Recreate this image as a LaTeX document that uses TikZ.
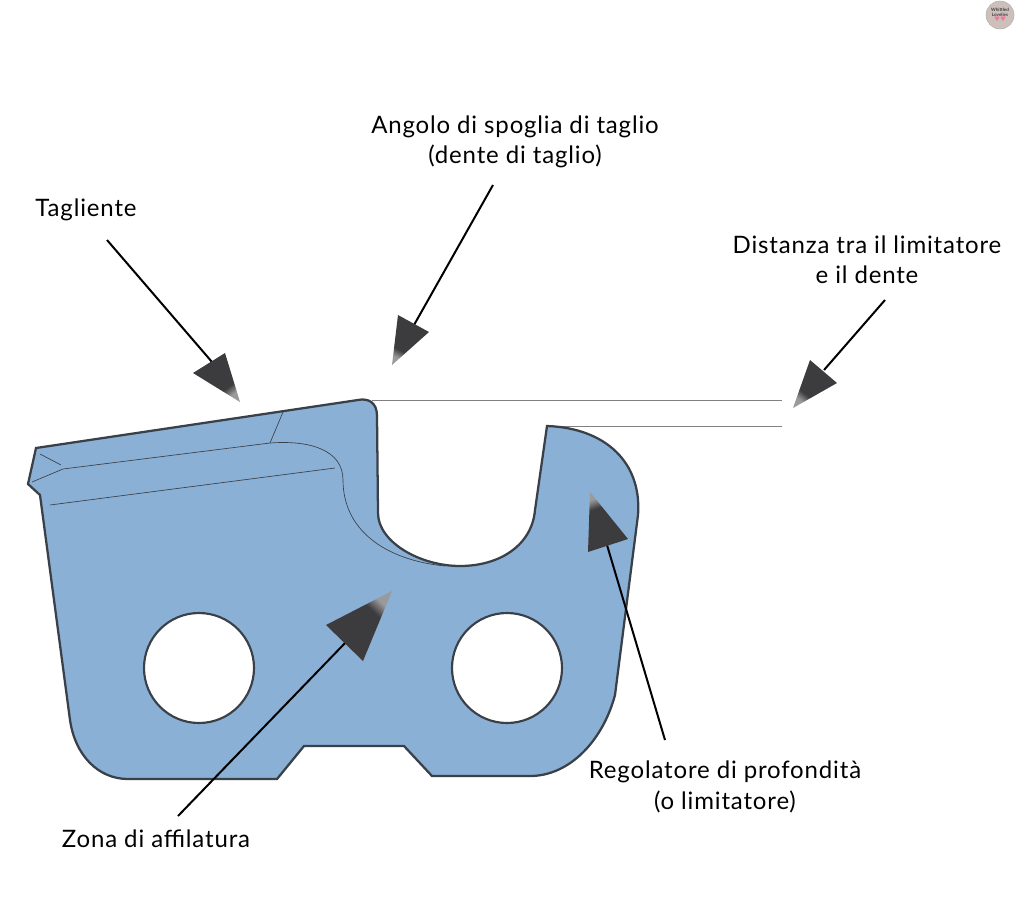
\documentclass[tikz,border=0pt]{standalone}
\usepackage{fontspec}
\setmainfont{Lato}
\newfontfamily\labelfont[LetterSpace=3.5]{Lato}
\newfontfamily\heartfont{DejaVu Sans}
\definecolor{toothblue}{HTML}{8BB0D6}
\definecolor{toothedge}{HTML}{3A4048}
\definecolor{headdark}{HTML}{3C3C3E}
\definecolor{headlight}{HTML}{9A9A9A}
\definecolor{badgefill}{HTML}{CDBFBA}
\definecolor{heartpink}{HTML}{E8809F}
\pgfdeclareverticalshading{headfade}{100bp}{color(0bp)=(headlight); color(26bp)=(headlight); color(35bp)=(headdark); color(100bp)=(headdark)}
\tikzset{
  label/.style={align=center, font=\labelfont\fontsize{18}{22.8}\selectfont, text=black, inner sep=0pt},
  pointer/.style={draw=black, line width=1.5pt},
  arrowhead/.style={shading=headfade, shading angle=#1},
  scratch/.style={draw=toothedge, line width=0.5pt},
  level/.style={draw=gray, line width=1.2pt},
  hole/.style={fill=white, draw=toothedge, line width=1.6pt}
}
\begin{document}
\begin{tikzpicture}[x=0.75pt,y=-0.75pt]
  \useasboundingbox (0,0) rectangle (1016,903);
  % levels
  \coordinate (toptooth) at (372,400.5);
  \coordinate (topend) at (782,400.5);
  \coordinate (limiter) at (548,426.5);
  \coordinate (limiterend) at (782,426.5);
  \draw[level] (toptooth) -- (topend);
  \draw[level] (limiter) -- (limiterend);
  % tooth body
  \path[fill=toothblue, draw=toothedge, line width=1.7pt] (36,448) -- (358,400)
    .. controls (368,398) and (377,402) .. (377,416) -- (378,513)
    .. controls (378,542) and (420,566) .. (460,566)
    .. controls (500,566) and (532,545) .. (535,510) -- (547,426)
    .. controls (605,428) and (642,462) .. (638,515) -- (615,695)
    .. controls (603,740) and (570,776) .. (530,776) -- (432,776) -- (404,746) -- (304,746) -- (277,779) -- (128,779)
    .. controls (98,779) and (75,755) .. (70,720) -- (40,495) -- (28,484) -- cycle;
  \path[hole] (199,668) circle [radius=41.25pt];
  \path[hole] (507,668) circle [radius=41.25pt];
  % lines on the tooth
  \draw[scratch] (40,454) -- (61,465);
  \draw[scratch] (32,482) -- (63,469) -- (270,443)
    .. controls (310,440) and (343,450) .. (343,480)
    .. controls (343,530) and (385,560) .. (445,566);
  \draw[scratch] (270,443) -- (283,412);
  \draw[scratch] (50,505) -- (335,468);
  % labels
  \node[label] (tagliente) at (86,210) {Tagliente};
  \node[label] (angolo) at (515,142) {Angolo di spoglia di taglio\\(dente di taglio)};
  \node[label] (distanza) at (867,260) {Distanza tra il limitatore\\e il dente};
  \node[label] (regolatore) at (725,787) {Regolatore di profondità\\(o limitatore)};
  \node[label] (zona) at (156,839) {Zona di affilatura};
  % pointers
  \coordinate (tagstart) at (107,240);
  \coordinate (tagend) at (212,362);
  \coordinate (angstart) at (493,185);
  \coordinate (angend) at (414,325);
  \coordinate (diststart) at (885,300);
  \coordinate (distend) at (824,370);
  \coordinate (regstart) at (665,740);
  \coordinate (regend) at (607,545);
  \coordinate (zonstart) at (178,816);
  \coordinate (zonend) at (347,641);
  \draw[pointer] (tagstart) -- (tagend);
  \draw[pointer] (angstart) -- (angend);
  \draw[pointer] (diststart) -- (distend);
  \draw[pointer] (regstart) -- (regend);
  \draw[pointer] (zonstart) -- (zonend);
  \shade[arrowhead=38] (193,373) -- (225,353) -- (240,402) -- cycle;
  \shade[arrowhead=-27] (398,315) -- (429,332) -- (392,365) -- cycle;
  \shade[arrowhead=-39] (810,360) -- (837,383) -- (793,408) -- cycle;
  \shade[arrowhead=199] (590,492) -- (628,539) -- (588,552) -- cycle;
  \shade[arrowhead=137] (326,625) -- (363,661) -- (392,591) -- cycle;
  % badge
  \node[circle, draw=gray!60, fill=badgefill, minimum size=21pt, inner sep=0pt, align=center, font=\fontsize{3.4}{3.9}\selectfont\bfseries, text=black!75] (badge) at (1000,15) {Whittled\\Lovelies\\{\heartfont\fontsize{5}{4}\selectfont\textcolor{heartpink}{♥♥}}};
\end{tikzpicture}
\end{document}
